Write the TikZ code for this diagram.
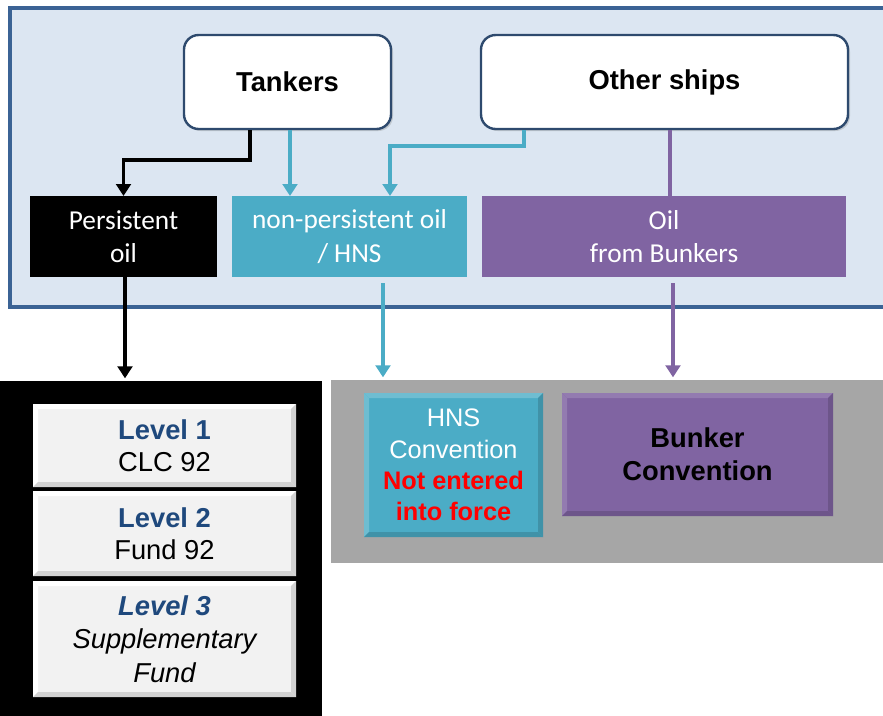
\documentclass[tikz,border=0pt]{standalone}
\usepackage{fontspec}
\setmainfont{Liberation Sans}
\newfontfamily\calfont{Carlito}
\usetikzlibrary{arrows.meta,positioning,calc,shadows}

\definecolor{panelblue}{HTML}{DCE6F2}
\definecolor{paneledge}{HTML}{3B6395}
\definecolor{shipedge}{HTML}{2E4A6E}
\definecolor{hnsteal}{HTML}{4BACC6}
\definecolor{bunkpurple}{HTML}{8064A2}
\definecolor{levelblue}{HTML}{1F497D}
\definecolor{levelgray}{HTML}{F2F2F2}
\definecolor{lowgray}{HTML}{A6A6A6}

% bevel edges round a filled node: name, light, dark, depth
\newcommand{\bevel}[4]{%
  \fill[#2] (#1.north west) -- (#1.north east) -- ($(#1.north east)+(-#4,#4)$)
    -- ($(#1.north west)+(#4,#4)$) -- cycle;
  \fill[#2] (#1.north west) -- ($(#1.north west)+(#4,#4)$)
    -- ($(#1.south west)+(#4,-#4)$) -- (#1.south west) -- cycle;
  \fill[#3] (#1.north east) -- (#1.south east) -- ($(#1.south east)+(-#4,-#4)$)
    -- ($(#1.north east)+(-#4,#4)$) -- cycle;
  \fill[#3] (#1.south west) -- (#1.south east) -- ($(#1.south east)+(-#4,-#4)$)
    -- ($(#1.south west)+(#4,-#4)$) -- cycle;
}

\begin{document}
\begin{tikzpicture}[
  x=0.75pt, y=-0.75pt,
  pan/.style={anchor=north west, inner sep=0pt, outer sep=0pt},
  ship/.style={draw=shipedge, line width=1.8pt, rounded corners=11pt, fill=white,
               minimum height=70.5pt, font=\bfseries\fontsize{20.5}{24}\selectfont,
               drop shadow={shadow xshift=1.5pt, shadow yshift=-1.5pt, opacity=0.3}},
  cat/.style={minimum height=60.75pt, inner sep=0pt, outer sep=0pt, align=center,
              text=white, font=\calfont\fontsize{20.5}{25}\selectfont},
  lvl/.style={fill=levelgray, minimum width=197.25pt, inner sep=0pt, outer sep=0pt,
              align=center, font=\fontsize{20}{24}\selectfont},
  conv/.style={inner sep=0pt, outer sep=0pt, align=center},
  ar/.style={-{Triangle[length=9pt,width=11pt]}, line width=2.8pt},
  ln/.style={line width=2.8pt}
]
  \useasboundingbox (0,0) rectangle (883,715);

  % panels
  \node[pan, fill=panelblue, draw=paneledge, line width=2.6pt,
        minimum width=660pt, minimum height=224.25pt] (toppan) at (10,8) {};
  \node[pan, fill=black, minimum width=241.5pt, minimum height=255pt] (lowblk) at (0,381) {};
  \node[pan, fill=lowgray, minimum width=420pt, minimum height=137.25pt] (lowgry) at (331,380) {};

  % ships
  \node[ship, minimum width=155.25pt] (tank) at (287.5,82) {Tankers};
  \node[ship, minimum width=275.25pt] (other) at (664.5,82) {Other ships};

  % cargo kinds
  \node[cat, fill=black, minimum width=140.25pt] (pers) at (123.5,236.5) {Persistent\\oil};
  \node[cat, fill=hnsteal, minimum width=176.25pt] (nonp) at (349.5,236.5) {non-persistent oil\\/ HNS};
  \node[cat, fill=bunkpurple, minimum width=273pt] (bunk) at (664,236.5) {Oil\\from Bunkers};

  % levels
  \node[lvl, minimum height=62.25pt] (lev1) at (164.5,445.5) {};
  \node[lvl, minimum height=63.75pt] (lev2) at (164.5,533.5) {};
  \node[lvl, minimum height=87pt] (lev3) at (164.5,639) {};
  \bevel{lev1}{white}{gray!35}{5}
  \bevel{lev2}{white}{gray!35}{5}
  \bevel{lev3}{white}{gray!35}{5}
  \node[align=center, font=\fontsize{20.5}{24}\selectfont] at (lev1)
    {\textcolor{levelblue}{\bfseries Level 1}\\CLC 92};
  \node[align=center, font=\fontsize{20.5}{24}\selectfont] at (lev2)
    {\textcolor{levelblue}{\bfseries Level 2}\\Fund 92};
  \node[align=center, font=\itshape\fontsize{20.5}{25}\selectfont] at (lev3)
    {\textcolor{levelblue}{\bfseries Level 3}\\Supplementary\\Fund};

  % conventions
  \node[conv, fill=hnsteal, minimum width=134.25pt, minimum height=108pt] (hns) at (453.5,465) {};
  \node[conv, fill=bunkpurple, minimum width=203.25pt, minimum height=92.25pt] (bconv) at (697.5,454.5) {};
  \bevel{hns}{hnsteal!80!white}{hnsteal!85!black}{5}
  \bevel{bconv}{bunkpurple!85!white}{bunkpurple!85!black}{5}
  \node[align=center, font=\fontsize{19}{23.5}\selectfont, text=white] at (hns)
    {HNS\\Convention\\\textcolor{red}{\bfseries Not entered}\\\textcolor{red}{\bfseries into force}};
  \node[align=center, font=\bfseries\fontsize{20.5}{25}\selectfont] at (bconv)
    {Bunker\\Convention};

  % connectors, top panel
  \coordinate (tk0) at ($(tank.south)+(-37.5,0)$);
  \coordinate (tk1) at ($(tank.south)+(2.5,0)$);
  \coordinate (ot0) at ($(other.south)+(-140.5,0)$);
  \coordinate (ot1) at ($(other.south)+(5.5,0)$);
  \draw[ar, black] (tk0) |- ($(pers.north)+(0,-36)$) -- (pers.north);
  \draw[ar, hnsteal] (tk1) -- (tk1 |- nonp.north);
  \draw[ar, hnsteal] (ot0) |- ($(nonp.north)+(40.5,-50)$) -- ($(nonp.north)+(40.5,0)$);
  \draw[ln, bunkpurple] (ot1) -- (ot1 |- bunk.north);

  % connectors, down to the conventions
  \coordinate (ps0) at ($(pers.south)+(1.5,0)$);
  \coordinate (np0) at ($(nonp.south)+(33.5,6)$);
  \coordinate (bk0) at ($(bunk.south)+(9,6)$);
  \draw[ar, black, shorten >=2pt] (ps0) -- (ps0 |- lowblk.north);
  \draw[ar, hnsteal, shorten >=2pt] (np0) -- (np0 |- lowgry.north);
  \draw[ar, bunkpurple, shorten >=2pt] (bk0) -- (bk0 |- lowgry.north);
\end{tikzpicture}
\end{document}
